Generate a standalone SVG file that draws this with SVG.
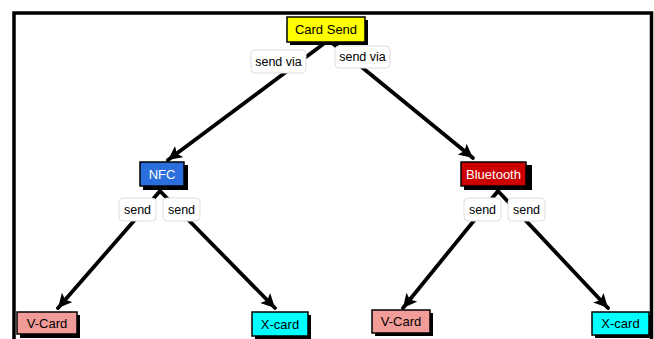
<svg xmlns="http://www.w3.org/2000/svg" width="654" height="339" viewBox="0 0 654 339">
<defs>
<marker id="arr" markerUnits="userSpaceOnUse" markerWidth="18" markerHeight="16" refX="14" refY="7" orient="auto">
<path d="M0,0 L14,7 L0,14 L3,7 Z" fill="#000"/>
</marker>
<style>
.edge{stroke:#000;stroke-width:3.8;fill:none;stroke-linecap:round}
.shadow{fill:#000}
.box{stroke:#000;stroke-width:1.5}
.t{font-family:"Liberation Sans",Arial,sans-serif;font-size:13px;text-anchor:middle}
.lbl rect{fill:#fff;stroke:#ddd;stroke-width:1}
.lbl text{font-family:"Liberation Sans",Arial,sans-serif;font-size:12.5px;text-anchor:middle;fill:#000}
</style>
</defs>
<rect width="654" height="339" fill="#fff"/>
<rect x="14" y="13" width="637.5" height="340" fill="none" stroke="#000" stroke-width="3.5"/>
<g id="connectors">
<line class="edge" x1="326" y1="42" x2="168" y2="160" marker-end="url(#arr)"/>
<line class="edge" x1="331" y1="42" x2="473" y2="158" marker-end="url(#arr)"/>
<line class="edge" x1="160" y1="191" x2="58" y2="308" marker-end="url(#arr)"/>
<line class="edge" x1="160" y1="191" x2="275" y2="308" marker-end="url(#arr)"/>
<line class="edge" x1="498" y1="191" x2="403" y2="308" marker-end="url(#arr)"/>
<line class="edge" x1="498" y1="191" x2="608" y2="308" marker-end="url(#arr)"/>
<g class="lbl"><rect x="251" y="50" width="55" height="23" rx="4"/><text x="278.5" y="66">send via</text></g>
<g class="lbl"><rect x="335" y="46" width="55" height="22" rx="4"/><text x="362.5" y="61">send via</text></g>
<g class="lbl"><rect x="119" y="198" width="37" height="23" rx="4"/><text x="137.5" y="214">send</text></g>
<g class="lbl"><rect x="163" y="198" width="37" height="23" rx="4"/><text x="181.5" y="214">send</text></g>
<g class="lbl"><rect x="464" y="198" width="37" height="23" rx="4"/><text x="482.5" y="214">send</text></g>
<g class="lbl"><rect x="508" y="198" width="37" height="23" rx="4"/><text x="526.5" y="214">send</text></g>
</g>
<g id="card-send">
<rect class="shadow" x="290" y="20" width="78" height="25"/>
<rect class="box" x="287" y="17" width="78" height="25" fill="#ffff00"/>
<text class="t" x="326" y="34">Card Send</text>
</g>
<g id="nfc">
<rect class="shadow" x="143" y="165" width="45" height="25"/>
<rect class="box" x="140" y="162" width="44" height="24" fill="#2a6fdc"/>
<text class="t" x="162" y="179" fill="#fff">NFC</text>
</g>
<g id="bluetooth">
<rect class="shadow" x="464" y="165" width="68" height="25"/>
<rect class="box" x="461" y="162" width="65" height="24" fill="#cc0000"/>
<text class="t" x="493.5" y="179" fill="#fff">Bluetooth</text>
</g>
<g id="vcard-left">
<rect class="shadow" x="20" y="315" width="60" height="23"/>
<rect class="box" x="17" y="312" width="60" height="22" fill="#f19c98"/>
<text class="t" x="47" y="328">V-Card</text>
</g>
<g id="xcard-left">
<rect class="shadow" x="255" y="315" width="56" height="24"/>
<rect class="box" x="252" y="312" width="56" height="24" fill="#00ffff"/>
<text class="t" x="280" y="329">X-card</text>
</g>
<g id="vcard-right">
<rect class="shadow" x="375" y="313" width="58" height="23"/>
<rect class="box" x="372" y="310" width="58" height="23" fill="#f19c98"/>
<text class="t" x="401" y="326">V-Card</text>
</g>
<g id="xcard-right">
<rect class="shadow" x="595" y="315" width="57" height="23"/>
<rect class="box" x="592" y="312" width="57" height="23" fill="#00ffff"/>
<text class="t" x="620.5" y="328">X-card</text>
</g>
</svg>
